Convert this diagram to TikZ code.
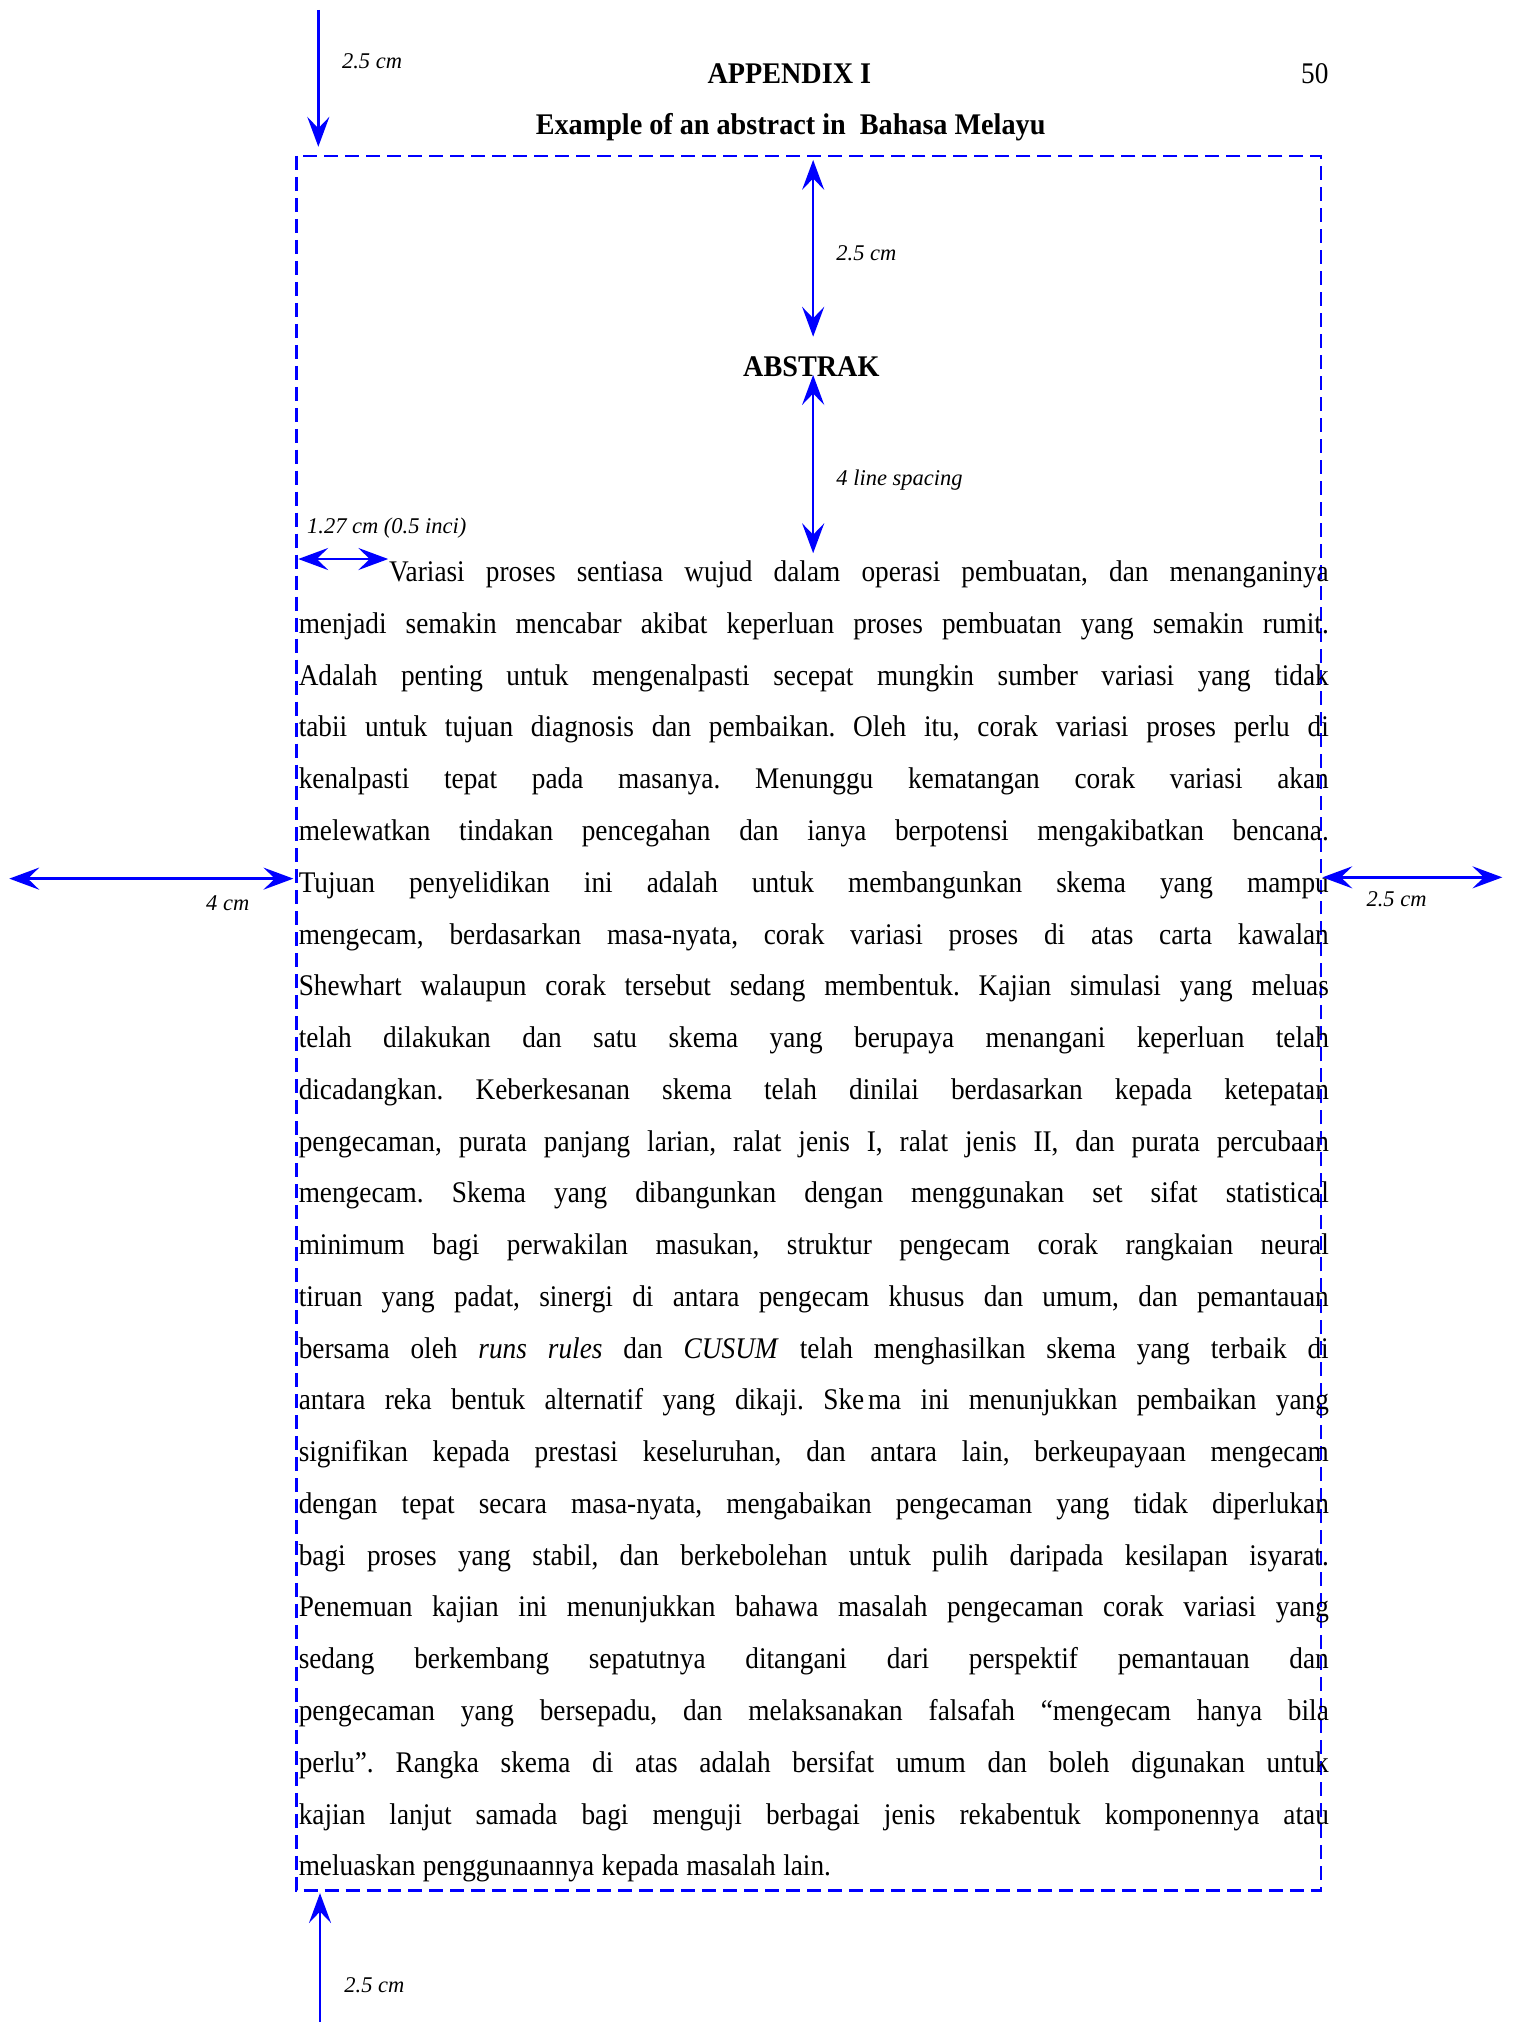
\documentclass[tikz,border=0pt]{standalone}
\usepackage{fontspec}
\setmainfont{Liberation Serif}[FakeStretch=0.91, BoldFeatures={FakeStretch=0.94}]
\newfontfamily\notefont{Liberation Serif}
\usetikzlibrary{arrows.meta}

\tikzset{
  dimline/.style={blue, line width=1pt, -{Stealth[length=0.42cm, width=0.31cm, inset=0.16cm]}},
  dimpair/.style={blue, line width=1pt, {Stealth[length=0.42cm, width=0.31cm, inset=0.16cm]}-{Stealth[length=0.42cm, width=0.31cm, inset=0.16cm]}},
  note/.style={font=\notefont\fontsize{9}{11}\selectfont\itshape, inner sep=0pt, anchor=base west},
  heading/.style={font=\fontsize{12}{14}\selectfont\bfseries, inner sep=0pt, anchor=base},
}

\begin{document}
\begin{tikzpicture}[x=0.018205cm, y=-0.018205cm]
        \useasboundingbox (0,0) rectangle (1170,1562.6);

        % Margin frame
        \draw[blue, line width=1pt, dash pattern=on 5.6pt off 2.8pt] (229,120.5) rectangle (1021,1461);

        % Headings
        \node[heading] (appx) at (610,64.5) {APPENDIX I};
        \node[font=\fontsize{12}{14}\selectfont, inner sep=0pt, anchor=base east] (page) at (1027,64.5) {50};
        \node[heading] (title) at (611,104) {Example of an abstract in\ \ Bahasa Melayu};
        \node[heading] (abs) at (627,291) {ABSTRAK};

        % Abstract text
        \node[inner sep=0pt, anchor=base west] (body) at (230.5,449.5) {\parbox[t]{14.49cm}{%
          \fontsize{12}{20.72}\selectfont\frenchspacing
          \spaceskip=0.25em plus 3em minus 0.05em
          \hyphenpenalty=10000 \exhyphenpenalty=10000 \tolerance=10000 \hbadness=10000
          \hspace*{1.27cm}Variasi proses sentiasa wujud dalam operasi pembuatan, dan menanganinya\linebreak
          menjadi semakin mencabar akibat keperluan proses pembuatan yang semakin rumit.\linebreak
          Adalah penting untuk mengenalpasti secepat mungkin sumber variasi yang tidak\linebreak
          tabii untuk tujuan diagnosis dan pembaikan. Oleh itu, corak variasi proses perlu di\linebreak
          kenalpasti tepat pada masanya. Menunggu kematangan corak variasi akan\linebreak
          melewatkan tindakan pencegahan dan ianya berpotensi mengakibatkan bencana.\linebreak
          Tujuan penyelidikan ini adalah untuk membangunkan skema yang mampu\linebreak
          mengecam, berdasarkan masa-nyata, corak variasi proses di atas carta kawalan\linebreak
          Shewhart walaupun corak tersebut sedang membentuk. Kajian simulasi yang meluas\linebreak
          telah dilakukan dan satu skema yang berupaya menangani keperluan telah\linebreak
          dicadangkan. Keberkesanan skema telah dinilai berdasarkan kepada ketepatan\linebreak
          pengecaman, purata panjang larian, ralat jenis I, ralat jenis II, dan purata percubaan\linebreak
          mengecam. Skema yang dibangunkan dengan menggunakan set sifat statistical\linebreak
          minimum bagi perwakilan masukan, struktur pengecam corak rangkaian neural\linebreak
          tiruan yang padat, sinergi di antara pengecam khusus dan umum, dan pemantauan\linebreak
          bersama oleh \textit{runs rules} dan \textit{CUSUM} telah menghasilkan skema yang terbaik di\linebreak
          antara reka bentuk alternatif yang dikaji. Ske\kern1.5pt ma ini menunjukkan pembaikan yang\linebreak
          signifikan kepada prestasi keseluruhan, dan antara lain, berkeupayaan mengecam\linebreak
          dengan tepat secara masa-nyata, mengabaikan pengecaman yang tidak diperlukan\linebreak
          bagi proses yang stabil, dan berkebolehan untuk pulih daripada kesilapan isyarat.\linebreak
          Penemuan kajian ini menunjukkan bahawa masalah pengecaman corak variasi yang\linebreak
          sedang berkembang sepatutnya ditangani dari perspektif pemantauan dan\linebreak
          pengecaman yang bersepadu, dan melaksanakan falsafah ``mengecam hanya bila\linebreak
          perlu''. Rangka skema di atas adalah bersifat umum dan boleh digunakan untuk\linebreak
          kajian lanjut samada bagi menguji berbagai jenis rekabentuk komponennya atau\linebreak
          meluaskan penggunaannya kepada masalah lain.}};

        % Arrow ends
        \coordinate (topA) at (246,7.7);
        \coordinate (topB) at (246,113.4);
        \coordinate (midA) at (628.4,123.6);
        \coordinate (midB) at (628.4,260.2);
        \coordinate (midC) at (628.4,289.8);
        \coordinate (midD) at (628.4,427.5);
        \coordinate (indA) at (230.5,432);
        \coordinate (indB) at (300,432);
        \coordinate (lftA) at (7.2,679);
        \coordinate (lftB) at (226.7,679);
        \coordinate (rgtA) at (1022,678);
        \coordinate (rgtB) at (1161,678);
        \coordinate (botA) at (247.3,1562.6);
        \coordinate (botB) at (247.3,1463);

        % Measures
        \draw[dimline] (topA) -- (topB);
        \draw[dimpair] (midA) -- (midB);
        \draw[dimpair] (midC) -- (midD);
        \draw[dimpair] (indA) -- (indB);
        \draw[dimpair] (lftA) -- (lftB);
        \draw[dimpair] (rgtA) -- (rgtB);
        \draw[dimline] (botA) -- (botB);

        % Measure labels
        \node[note] (topL) at (264,52.8) {2.5 cm};
        \node[note] (midL) at (646,201) {2.5 cm};
        \node[note] (gapL) at (646,374.8) {4 line spacing};
        \node[note] (indL) at (237,412) {1.27 cm (0.5 inci)};
        \node[note] (lftL) at (159,703.8) {4 cm};
        \node[note] (rgtL) at (1055.7,700.7) {2.5 cm};
        \node[note] (botL) at (265.8,1540) {2.5 cm};
    \end{tikzpicture}
\end{document}
